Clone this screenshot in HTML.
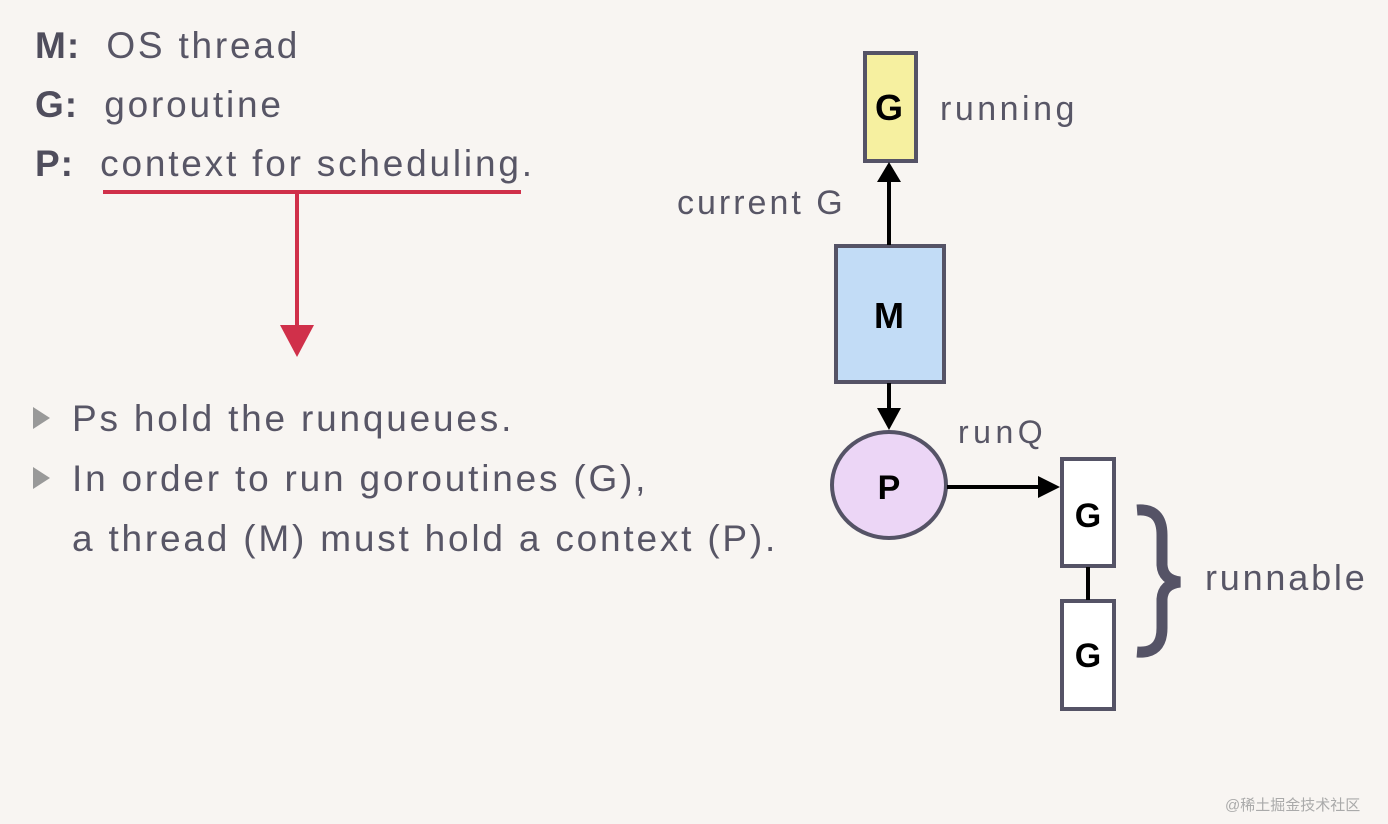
<!DOCTYPE html>
<html><head><meta charset="utf-8"><style>
body{margin:0;width:1388px;height:824px;background:#f8f5f2;overflow:hidden;position:relative;font-family:"Liberation Sans",sans-serif;color:#585666}
.t{position:absolute;white-space:nowrap;font-size:37px;line-height:1;letter-spacing:2.8px}
b{color:#4f4d5c;letter-spacing:1px}
</style></head><body>
<div class="t" style="left:35px;top:27px"><b>M:</b>&nbsp; OS thread</div>
<div class="t" style="left:35px;top:86px"><b>G:</b>&nbsp; goroutine</div>
<div class="t" style="left:35px;top:145px"><b>P:</b>&nbsp; context for scheduling.</div>
<div class="t" style="left:72px;top:400px">Ps hold the runqueues.</div>
<div class="t" style="left:72px;top:460px">In order to run goroutines (G),</div>
<div class="t" style="left:72px;top:520px">a thread (M) must hold a context (P).</div>
<div class="t" style="left:677px;top:186px;font-size:34px;letter-spacing:3px">current G</div>
<div class="t" style="left:940px;top:92px;font-size:34px;letter-spacing:3.5px">running</div>
<div class="t" style="left:958px;top:416px;font-size:32px;letter-spacing:4.5px">runQ</div>
<div class="t" style="left:1205px;top:560px;font-size:36px;letter-spacing:2.8px">runnable</div>
<div class="t" style="left:1225px;top:798px;font-size:15px;letter-spacing:0;color:#aaa;font-family:'Liberation Sans','Noto Sans CJK SC',sans-serif">@稀土掘金技术社区</div>
<svg width="1388" height="824" style="position:absolute;left:0;top:0">
<g fill="#999"><polygon points="33,407 33,429 50,418"/><polygon points="33,467 33,489 50,478"/></g>
<line x1="103" y1="192" x2="521" y2="192" stroke="#d0304a" stroke-width="4"/>
<line x1="297" y1="192" x2="297" y2="328" stroke="#d0304a" stroke-width="4"/>
<polygon points="280,325 314,325 297,357" fill="#d0304a"/>
<g stroke="#555366" stroke-width="4">
<rect x="865" y="53" width="51" height="108" fill="#f6f0a0"/>
<rect x="836" y="246" width="108" height="136" fill="#c2dcf6"/>
<ellipse cx="889" cy="485" rx="57" ry="53" fill="#ecd6f6"/>
<rect x="1062" y="459" width="52" height="107" fill="#fff"/>
<rect x="1062" y="601" width="52" height="108" fill="#fff"/>
</g>
<g stroke="#000" stroke-width="4">
<line x1="889" y1="245" x2="889" y2="180"/>
<line x1="889" y1="383" x2="889" y2="412"/>
<line x1="947" y1="487" x2="1040" y2="487"/>
<line x1="1088" y1="567" x2="1088" y2="600"/>
</g>
<polygon points="877,182 901,182 889,162" fill="#000"/>
<polygon points="877,408 901,408 889,430" fill="#000"/>
<polygon points="1038,476 1038,498 1060,487" fill="#000"/>
<path d="M1137,510 Q1162,508 1162,535 L1162,565 Q1163,580 1180,582 Q1163,584 1162,599 L1162,628 Q1162,654 1137,652" fill="none" stroke="#555366" stroke-width="11"/>
<g font-family="Liberation Sans,sans-serif" font-weight="bold" fill="#000" text-anchor="middle">
<text x="889" y="120" font-size="36">G</text>
<text x="889" y="328" font-size="36">M</text>
<text x="889" y="499" font-size="34">P</text>
<text x="1088" y="527" font-size="34">G</text>
<text x="1088" y="667" font-size="34">G</text>
</g>
</svg>
</body></html>
